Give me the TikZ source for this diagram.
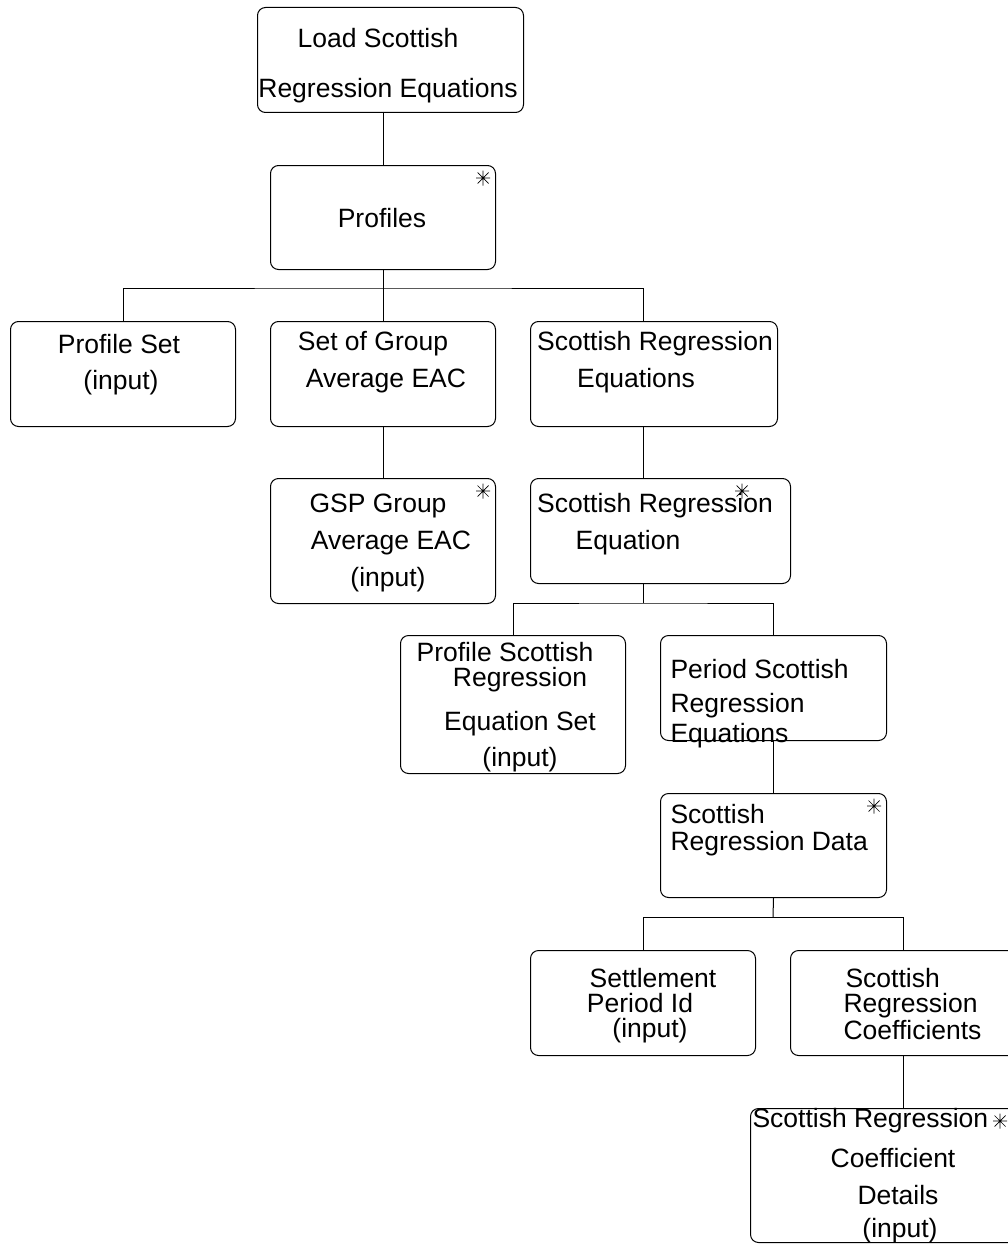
\documentclass[tikz,border=0pt]{standalone}
\usepackage{fontspec}
\setmainfont{Liberation Sans}
\usepackage{tikz}

\begin{document}
\begin{tikzpicture}[x=1pt,y=-1pt,line width=1pt,
    box/.style={draw,rounded corners=8pt,inner sep=0pt,anchor=north west},
    txt/.style={inner sep=0pt,yshift=-3pt,font=\fontsize{26.5}{30}\selectfont},
    txtl/.style={txt,anchor=west},
    multstar/.pic={\draw[line width=0.7pt] (-7,0) -- (7,0) (0,-7.5) -- (0,7.5)
        (-5.5,-5.5) -- (5.5,5.5) (-5.5,5.5) -- (5.5,-5.5);}]
    \useasboundingbox (0,0) rectangle (1008,1244);
    \clip (0,0) rectangle (1008,1244);
\node[box,minimum width=266pt,minimum height=105pt] (load) at (257,7) {}; % load
\node[txt] at (378,35) {Load Scottish}; % load
\node[txt] at (388,88) {Regression Equations}; % load
\node[box,minimum width=225pt,minimum height=104pt] (profiles) at (270,165) {}; % profiles
\node[txt] at (382,215) {Profiles}; % profiles
\pic at (483,178) {multstar}; % profiles
\node[box,minimum width=225pt,minimum height=105pt] (pset) at (10,321) {}; % pset
\node[txt] at (119,341) {Profile Set}; % pset
\node[txt] at (121,380) {(input)}; % pset
\node[box,minimum width=225pt,minimum height=105pt] (sgavg) at (270,321) {}; % sgavg
\node[txt] at (373,341) {Set of Group}; % sgavg
\node[txt] at (386,378) {Average EAC}; % sgavg
\node[box,minimum width=247pt,minimum height=105pt] (sreqs) at (530,321) {}; % sreqs
\node[txt] at (655,341) {Scottish Regression}; % sreqs
\node[txt] at (636,378) {Equations}; % sreqs
\node[box,minimum width=225pt,minimum height=125pt] (gsp) at (270,478) {}; % gsp
\node[txt] at (378,503) {GSP Group}; % gsp
\node[txt] at (391,540) {Average EAC}; % gsp
\node[txt] at (388,577) {(input)}; % gsp
\pic at (483,491) {multstar}; % gsp
\node[box,minimum width=260pt,minimum height=105pt] (sreq) at (530,478) {}; % sreq
\node[txt] at (655,503) {Scottish Regression}; % sreq
\node[txt] at (628,540) {Equation}; % sreq
\pic at (742,491) {multstar}; % sreq
\node[box,minimum width=225pt,minimum height=138pt] (pseqset) at (400,635) {}; % pseqset
\node[txt] at (505,649) {Profile Scottish}; % pseqset
\node[txt] at (520,677) {Regression}; % pseqset
\node[txt] at (520,721) {Equation Set}; % pseqset
\node[txt] at (520,757) {(input)}; % pseqset
\node[box,minimum width=226pt,minimum height=105pt] (pseqs) at (660,635) {}; % pseqs
\node[txtl] at (670,666) {Period Scottish}; % pseqs
\node[txtl] at (670,703) {Regression}; % pseqs
\node[txtl] at (670,733) {Equations}; % pseqs
\node[box,minimum width=226pt,minimum height=104pt] (srdata) at (660,793) {}; % srdata
\node[txtl] at (670,811) {Scottish}; % srdata
\node[txtl] at (670,841) {Regression Data}; % srdata
\pic at (874,806) {multstar}; % srdata
\node[box,minimum width=225pt,minimum height=105pt] (spid) at (530,950) {}; % spid
\node[txt] at (653,975) {Settlement}; % spid
\node[txt] at (640,1000) {Period Id}; % spid
\node[txt] at (650,1028) {(input)}; % spid
\node[box,minimum width=226pt,minimum height=105pt] (srcoeffs) at (790,950) {}; % srcoeffs
\node[txtl] at (845,975) {Scottish}; % srcoeffs
\node[txtl] at (843,1003) {Regression}; % srcoeffs
\node[txtl] at (843,1027) {Coefficients}; % srcoeffs
\node[box,minimum width=306pt,minimum height=134pt] (srcdet) at (750,1108) {}; % srcdet
\node[txtl] at (752,1118) {Scottish Regression}; % srcdet
\pic at (1000,1121) {multstar}; % srcdet
\node[txt] at (893,1155) {Coefficient}; % srcdet
\node[txt] at (898,1192) {Details}; % srcdet
\node[txt] at (900,1228) {(input)}; % srcdet
    % joins
\coordinate (load-out) at (383,112); % load
\coordinate (pbus) at (383,288); % profiles
\coordinate (sreqs-in) at (643,321); % sreqs
\coordinate (sreqs-out) at (643,426); % sreqs
\coordinate (sreq-in) at (643,478); % sreq
\coordinate (sreq-out) at (643,583); % sreq
\coordinate (sreq-bus) at (643,603); % sreq
\coordinate (srdata-bus) at (773,917); % srdata
\draw (load-out) -- (profiles.north); % load-profiles
\draw (profiles.south) -- (sgavg.north); % profiles-sgavg
\draw (pset.north) |- (pbus) -| (sreqs-in); % profiles bus
\draw (sgavg.south) -- (gsp.north); % sgavg-gsp
\draw (sreqs-out) -- (sreq-in); % sreqs-sreq
\draw (sreq-out) -- (sreq-bus); % sreq
\draw (pseqset.north) |- (sreq-bus) -| (pseqs.north); % sreq bus
\draw (pseqs.south) -- (srdata.north); % pseqs-srdata
\draw (srdata.south) -- (srdata-bus); % srdata
\draw (spid.north) |- (srdata-bus) -| (srcoeffs.north); % srdata bus
\draw (srcoeffs.south) -- (srcdet.north); % srcoeffs-srcdet
\end{tikzpicture}
\end{document}
